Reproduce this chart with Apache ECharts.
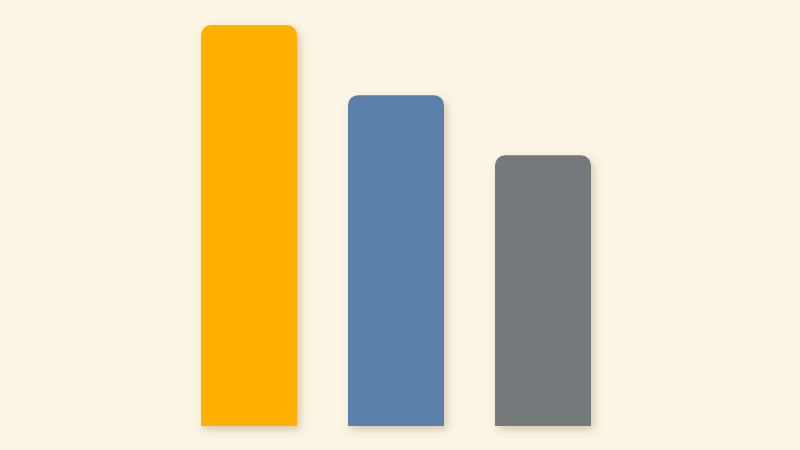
<!DOCTYPE html>
<html>
<head>
<meta charset="utf-8">
<script src="https://cdn.jsdelivr.net/npm/echarts@6/dist/echarts.min.js"></script>
<style>
  html, body { margin: 0; padding: 0; background: #fdf5e4; }
  #chart { width: 800px; height: 450px; }
</style>
</head>
<body>
<div id="chart"></div>
<script>
// --- Data ---
const categories = ['A', 'B', 'C'];
const values = [100, 82.5, 67.5];
const barColors = ['#ffb000', '#5a7faa', '#76797b'];

const chart = echarts.init(document.getElementById('chart'));

const option = {
    backgroundColor: '#fdf5e4',
    animation: false,
    grid: { left: 175.5, right: 183.5, top: 25, bottom: 24 },
    xAxis: {
        type: 'category',
        data: categories,
        show: false
    },
    yAxis: { type: 'value', min: 0, max: 100, show: false },
    series: [{
        type: 'bar',
        barWidth: 96,
        data: values.map((v, i) => ({
            value: v,
            itemStyle: { color: barColors[i] }
        })),
        itemStyle: {
            borderRadius: [10, 10, 0, 0],
            shadowBlur: 8,
            shadowOffsetX: 3,
            shadowOffsetY: 4,
            shadowColor: 'rgba(90, 70, 30, 0.25)'
        }
    }]
};
chart.setOption(option);
</script>
</body>
</html>
